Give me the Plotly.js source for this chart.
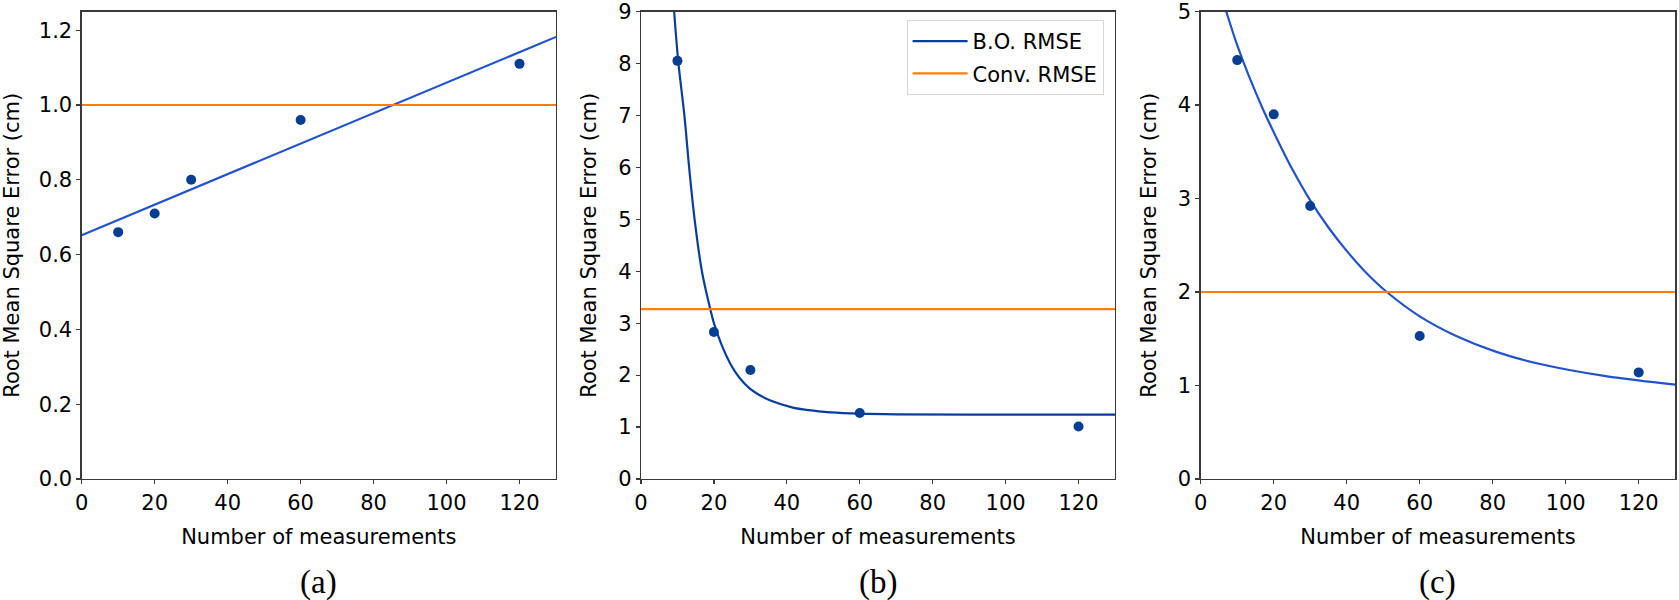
<!DOCTYPE html>
<html>
<head>
<meta charset="utf-8">
<script src="https://cdn.plot.ly/plotly-3.0.1.min.js"></script>
<style>
  html, body { margin: 0; padding: 0; background: #ffffff; }
  #chart { width: 1679px; height: 600px; }
</style>
</head>
<body>
<div id="chart"></div>
<script>
// Number of measurements used in each experiment
const measurements = [10, 20, 30, 60, 120];

// (a) RMSE per measurement count, linear trend, conventional reference
const rmseA = [0.66, 0.71, 0.80, 0.96, 1.11];
const trendAx = [0, 130];
const trendAy = [0.652, 1.182];
const convA = 1.0;

// (b) RMSE per measurement count, decay trend, conventional reference
const rmseB = [8.05, 2.83, 2.10, 1.27, 1.01];
const trendBx = [9.1, 10.2, 11.9, 13.2, 14.7, 16.7, 18.9, 20, 22, 24.8, 27, 29.7, 32, 35.5, 41.4, 46, 52, 60, 70, 90, 130];
const trendBy = [9.0, 8.05, 7.0, 6.0, 5.0, 4.0, 3.3, 3.0, 2.6, 2.18, 1.95, 1.75, 1.636, 1.51, 1.38, 1.325, 1.284, 1.258, 1.246, 1.24, 1.24];
const convB = 3.27;

// (c) RMSE per measurement count, decay trend, conventional reference
const rmseC = [4.48, 3.90, 2.92, 1.53, 1.14];
const trendCx = [7, 10, 13, 17, 20, 25, 30, 35, 40, 45, 51, 60, 70, 81, 93, 111, 130];
const trendCy = [5.0, 4.64, 4.33, 3.96, 3.71, 3.32, 2.98, 2.69, 2.44, 2.22, 2.0, 1.74, 1.53, 1.36, 1.23, 1.10, 1.01];
const convC = 2.0;

const xTicks = [0, 20, 40, 60, 80, 100, 120];
const yTicksA = [0, 0.2, 0.4, 0.6, 0.8, 1.0, 1.2];
const yTicksB = [0, 1, 2, 3, 4, 5, 6, 7, 8, 9];
const yTicksC = [0, 1, 2, 3, 4, 5];
const xSpan = [0, 130];
const panelLabels = ['(a)', '(b)', '(c)'];

const seriesNames = ['B.O. RMSE', 'Conv. RMSE'];

const markerColor = '#063e92';
const trendLight = '#2353cc';
const trendDark = '#0a3e9c';
const convColor = '#ff7f0e';
const axisColor = '#3a3a3a';
const font = 'DejaVu Sans, Liberation Sans, sans-serif';
const textSize = 21;

function pointsTrace(y, xa, ya) {
  return {
    x: measurements, y: y, xaxis: xa, yaxis: ya,
    type: 'scatter', mode: 'markers',
    marker: { color: markerColor, size: 10 },
    showlegend: false, hoverinfo: 'skip'
  };
}

function lineTrace(x, y, xa, ya, color, width, name, show, group) {
  return {
    x: x, y: y, xaxis: xa, yaxis: ya,
    type: 'scatter', mode: 'lines',
    line: { color: color, width: width, shape: 'spline', smoothing: 1 },
    name: name, showlegend: show, legendgroup: group, hoverinfo: 'skip'
  };
}

const traces = [
  lineTrace(trendAx, trendAy, 'x', 'y', trendLight, 2.2, seriesNames[0], false, 'g1'),
  lineTrace(xSpan, [convA, convA], 'x', 'y', convColor, 2.2, seriesNames[1], false, 'g2'),
  pointsTrace(rmseA, 'x', 'y'),

  lineTrace(trendBx, trendBy, 'x2', 'y2', trendDark, 2.2, seriesNames[0], true, 'g1'),
  lineTrace(xSpan, [convB, convB], 'x2', 'y2', convColor, 2.2, seriesNames[1], true, 'g2'),
  pointsTrace(rmseB, 'x2', 'y2'),

  lineTrace(trendCx, trendCy, 'x3', 'y3', trendLight, 2.2, seriesNames[0], false, 'g1'),
  lineTrace(xSpan, [convC, convC], 'x3', 'y3', convColor, 2.2, seriesNames[1], false, 'g2'),
  pointsTrace(rmseC, 'x3', 'y3')
];

const W = 1679, H = 600;
const plotTopPx = 11.5, plotBottomPx = 479;
const yDomain = [1 - plotBottomPx / H, 1 - plotTopPx / H];
const panelsPx = [[81.7, 556], [641, 1115], [1200.7, 1675.2]];

function xAxis(i) {
  return {
    domain: [panelsPx[i][0] / W, panelsPx[i][1] / W],
    anchor: i === 0 ? 'y' : 'y' + (i + 1),
    range: xSpan, tickvals: xTicks,
    showgrid: false, zeroline: false,
    showline: true, mirror: true, linecolor: axisColor, linewidth: 1.3,
    ticks: 'outside', ticklen: 4, tickwidth: 1.2, tickcolor: axisColor,
    ticklabeloverflow: 'allow',
    tickfont: { family: font, size: textSize, color: '#000' },
    title: { text: 'Number of measurements', font: { family: font, size: textSize, color: '#000' }, standoff: 15 },
    fixedrange: true
  };
}

function yAxis(i, range, ticks, fmt) {
  return {
    domain: yDomain,
    anchor: i === 0 ? 'x' : 'x' + (i + 1),
    range: range, tickvals: ticks, tickformat: fmt,
    showgrid: false, zeroline: false,
    showline: true, mirror: true, linecolor: axisColor, linewidth: 1.3,
    ticks: 'outside', ticklen: 4, tickwidth: 1.2, tickcolor: axisColor,
    ticklabeloverflow: 'allow',
    tickfont: { family: font, size: textSize, color: '#000' },
    title: { text: 'Root Mean Square Error (cm)', font: { family: font, size: textSize, color: '#000' }, standoff: 15 },
    fixedrange: true
  };
}

const annotations = panelLabels.map((t, i) => ({
  text: t, xref: 'paper', yref: 'paper',
  x: (panelsPx[i][0] + panelsPx[i][1]) / 2 / W, y: 1 - 582 / H,
  xanchor: 'center', yanchor: 'middle', showarrow: false,
  font: { family: 'Liberation Serif, Times New Roman, serif', size: 33, color: '#000' }
}));

const layout = {
  width: W, height: H,
  margin: { l: 0, r: 0, t: 0, b: 0 },
  paper_bgcolor: '#ffffff', plot_bgcolor: '#ffffff',
  showlegend: true,
  legend: {
    x: 1103.6 / W, y: 1 - 20 / H, xanchor: 'right', yanchor: 'top',
    bgcolor: '#ffffff', bordercolor: '#d6d6d6', borderwidth: 1,
    font: { family: font, size: textSize, color: '#000' },
    traceorder: 'grouped', tracegroupgap: 2, itemwidth: 55
  },
  xaxis: xAxis(0), yaxis: yAxis(0, [0, 1.25], yTicksA, '.1f'),
  xaxis2: xAxis(1), yaxis2: yAxis(1, [0, 9], yTicksB, 'd'),
  xaxis3: xAxis(2), yaxis3: yAxis(2, [0, 5], yTicksC, 'd'),
  annotations: annotations
};

Plotly.newPlot('chart', traces, layout, { displayModeBar: false, staticPlot: true });
</script>
</body>
</html>
